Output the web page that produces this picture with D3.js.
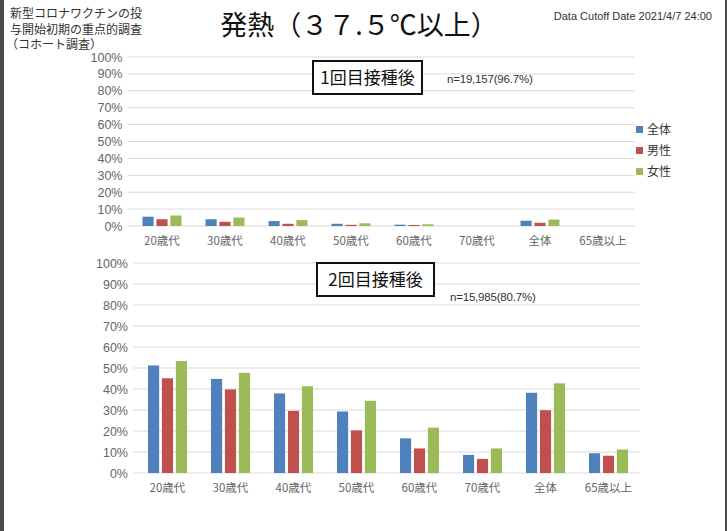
<!DOCTYPE html>
<html><head><meta charset="utf-8">
<script src="https://cdn.jsdelivr.net/npm/d3@7/dist/d3.min.js"></script>
<style>body{margin:0;background:#fff;} svg{display:block;}</style>
</head><body>
<svg id="c" width="727" height="531"></svg>
<script>
const categories = ["20歳代","30歳代","40歳代","50歳代","60歳代","70歳代","全体","65歳以上"];
const seriesNames = ["全体","男性","女性"];
const colors = ["#4F81BD","#C0504D","#9BBB59"];
// dose 1 (%)
const dose1All    = [5.5, 4.0, 2.9, 1.3, 0.8, 0, 3.1, 0];
const dose1Male   = [4.0, 2.5, 1.3, 0.7, 0.6, 0, 1.9, 0];
const dose1Female = [6.2, 5.0, 3.5, 1.6, 1.0, 0, 3.8, 0];
// dose 2 (%)
const dose2All    = [51.2, 44.8, 37.9, 29.3, 16.5, 8.6, 38.2, 9.4];
const dose2Male   = [45.1, 39.8, 29.6, 20.3, 11.7, 6.7, 29.9, 8.2];
const dose2Female = [53.3, 47.7, 41.3, 34.4, 21.6, 11.7, 42.7, 11.2];
const yTicks = [0,10,20,30,40,50,60,70,80,90,100];

const svg = d3.select("#c");
const font = "'Noto Sans CJK JP', 'Noto Sans', sans-serif";
const latin = "'Liberation Sans', Arial, sans-serif";

// frame
svg.append("rect").attr("x",0).attr("y",0).attr("width",4).attr("height",531).attr("fill","#4a4a4a");
svg.append("rect").attr("x",725).attr("y",0).attr("width",2).attr("height",531).attr("fill","#4a4a4a");

// header texts
const hl = ["新型コロナワクチンの投","与開始初期の重点的調査","（コホート調査）"];
svg.selectAll("text.hl").data(hl).join("text")
  .attr("x",(d,i)=> i==2 ? 6 : 10).attr("y",(d,i)=>18+i*15.5)
  .attr("font-family",font).attr("font-size",12).attr("fill","#333").text(d=>d);
svg.append("text").attr("x",359).attr("y",35).attr("text-anchor","middle")
  .attr("font-family",font).attr("font-size",27).attr("fill","#111").text("発熱（３７.５℃以上）");
svg.append("text").attr("x",712).attr("y",20).attr("text-anchor","end")
  .attr("font-family",latin).attr("font-size",11).attr("fill","#333")
  .text("Data Cutoff Date 2021/4/7 24:00");

function panel(opt){
  const x = d3.scaleBand().domain(categories).range([opt.x0, opt.x0+504]).paddingInner(0);
  const y = d3.scaleLinear().domain([0,100]).range([opt.y0, opt.y1]);
  const g = svg.append("g");
  g.selectAll("line.grid").data(yTicks).join("line")
    .attr("x1",opt.x0-3).attr("x2",opt.x0+504).attr("y1",d=>y(d)).attr("y2",d=>y(d))
    .attr("stroke","#d9d9d9").attr("stroke-width",1);
  g.selectAll("text.yl").data(yTicks).join("text")
    .attr("x",opt.x0-8).attr("y",d=>y(d)+4.5).attr("text-anchor","end")
    .attr("font-family",latin).attr("font-size",12.5).attr("fill","#666")
    .text(d=>d+"%");
  const sub = d3.scaleBand().domain([0,1,2]).range([0,39]).paddingInner(0.2);
  opt.series.forEach((vals,si)=>{
    g.selectAll("rect.s"+si).data(vals).join("rect")
      .attr("x",(d,i)=>x(categories[i]) + (x.bandwidth()-39)/2 + sub(si))
      .attr("width",sub.bandwidth())
      .attr("y",d=>y(d)).attr("height",d=>y(0)-y(d))
      .attr("fill",colors[si]);
  });
  g.selectAll("text.xl").data(categories).join("text")
    .attr("x",d=>x(d)+x.bandwidth()/2).attr("y",opt.y0+19).attr("text-anchor","middle")
    .attr("font-family",font).attr("font-size",11.5).attr("fill","#666").text(d=>d);
  // label box
  g.append("rect").attr("x",opt.bx).attr("y",opt.by).attr("width",opt.bw).attr("height",33)
    .attr("fill","#fff").attr("stroke","#111").attr("stroke-width",2);
  g.append("text").attr("x",opt.bx+opt.bw/2).attr("y",opt.by+23).attr("text-anchor","middle")
    .attr("font-family",font).attr("font-size",17).attr("fill","#111").text(opt.label);
  g.append("text").attr("x",opt.nx).attr("y",opt.ny).attr("font-family",latin)
    .attr("font-size",11.5).attr("fill","#333").attr("letter-spacing",-0.2).text(opt.n);
}

panel({x0:130.5, y0:226, y1:57, series:[dose1All,dose1Male,dose1Female],
  bx:313, by:61, bw:109, label:"1回目接種後", nx:447, ny:83, n:"n=19,157(96.7%)"});
panel({x0:136, y0:473, y1:263, series:[dose2All,dose2Male,dose2Female],
  bx:317, by:263, bw:117, label:"2回目接種後", nx:450, ny:301, n:"n=15,985(80.7%)"});

// legend
svg.selectAll("rect.lg").data(seriesNames).join("rect")
  .attr("x",636).attr("y",(d,i)=>126+i*21).attr("width",7).attr("height",7).attr("fill",(d,i)=>colors[i]);
svg.selectAll("text.lg").data(seriesNames).join("text")
  .attr("x",647).attr("y",(d,i)=>134+i*21).attr("font-family",font).attr("font-size",12).attr("fill","#333").text(d=>d);
</script>
</body></html>
